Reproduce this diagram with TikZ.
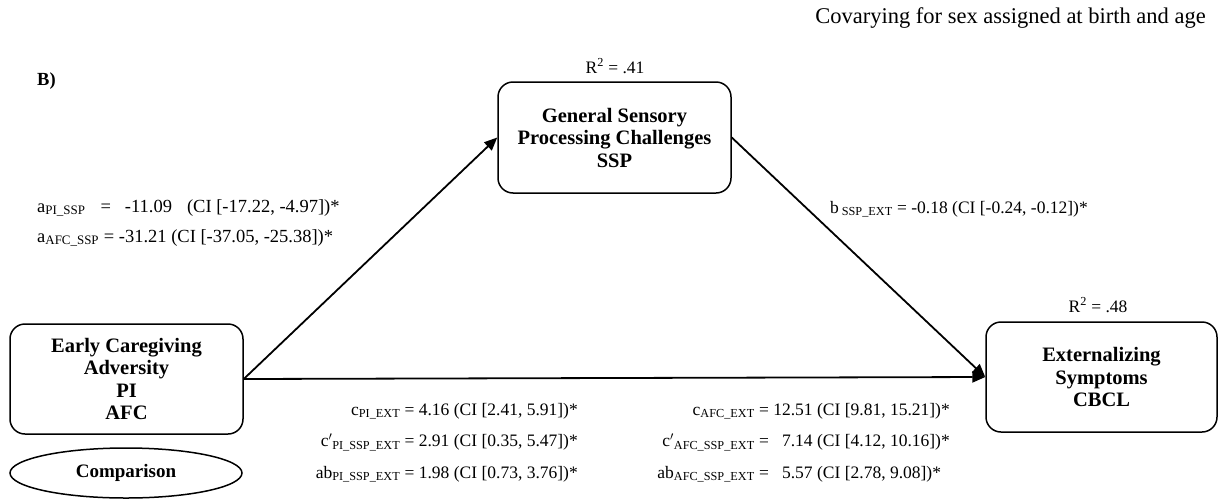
\documentclass[tikz,border=0pt]{standalone}
\usepackage{fontspec}
\setmainfont{Liberation Serif}
\usetikzlibrary{arrows.meta,shapes.geometric}
\newcommand{\sbs}[1]{\textsubscript{#1}}
\begin{document}
\begin{tikzpicture}[x=1pt,y=-1pt,
  varbox/.style={draw,line width=1.5pt,rounded corners=15pt,align=center,inner sep=0pt,
     font=\fontsize{20.5}{22.5}\selectfont\bfseries},
  coef/.style={inner sep=0pt,font=\fontsize{17.5}{20}\selectfont},
  path/.style={line width=1.8pt,-{Triangle[length=13pt,width=11pt]}}]
\useasboundingbox (0,0) rectangle (1221,501);

% header texts
\node[coef,anchor=base east,font=\fontsize{22.5}{24}\selectfont] (cov) at (1206,23) {Covarying for sex assigned at birth and age};
\node[coef,anchor=base west,font=\fontsize{18.5}{20}\selectfont\bfseries] (panel) at (37,85) {B)};

% variables
\node[varbox,minimum width=233pt,minimum height=111pt] (ssp) at (614.5,137.5) {General Sensory\\Processing Challenges\\SSP};
\node[varbox,minimum width=233pt,minimum height=110pt] (eca) at (126.5,379) {Early Caregiving\\Adversity\\PI\\AFC};
\node[varbox,minimum width=231pt,minimum height=110pt] (ext) at (1101.5,377) {Externalizing\\Symptoms\\CBCL};
\node[draw,ellipse,line width=1.5pt,minimum width=232pt,minimum height=50pt,inner sep=0pt,
  font=\fontsize{19}{20}\selectfont\bfseries] (cmp) at (126,473) {Comparison};

% explained variance
\node[coef] (r2m) at (615,66) {R\textsuperscript{2} = .41};
\node[coef] (r2y) at (1098,305) {R\textsuperscript{2} = .48};

% paths
\draw[path] (eca.east) -- (ssp.west);
\draw[path] (ssp.east) -- (ext.west);
\draw[path] (eca.east) -- (ext.west);

% path coefficients
\node[coef,anchor=base west,font=\fontsize{18.5}{20}\selectfont] (apath1) at (37,212)
  {a\sbs{PI\_SSP}\hspace{15pt}=\hspace{14pt}-11.09\hspace{15pt}(CI [-17.22, -4.97])*};
\node[coef,anchor=base west,font=\fontsize{18.5}{20}\selectfont] (apath2) at (37,242)
  {a\sbs{AFC\_SSP} = -31.21 (CI [-37.05, -25.38])*};
\node[coef,anchor=base west] (bpath) at (830,213) {b\,\sbs{SSP\_EXT} = -0.18 (CI [-0.24, -0.12])*};

\node[coef,anchor=base east] (cpi) at (578,415) {\begin{tabular}[t]{@{}r@{ = }l@{}}
  c\sbs{PI\_EXT} & 4.16 (CI [2.41, 5.91])*\\[11.5pt]
  c$'$\sbs{PI\_SSP\_EXT} & 2.91 (CI [0.35, 5.47])*\\[11.5pt]
  ab\sbs{PI\_SSP\_EXT} & 1.98 (CI [0.73, 3.76])*
\end{tabular}};
\node[coef,anchor=base east] (cafc) at (950,415) {\begin{tabular}[t]{@{}r@{ = }r@{ }l@{}}
  c\sbs{AFC\_EXT} & 12.51 & (CI [9.81, 15.21])*\\[11.5pt]
  c$'$\sbs{AFC\_SSP\_EXT} & 7.14 & (CI [4.12, 10.16])*\\[11.5pt]
  ab\sbs{AFC\_SSP\_EXT} & 5.57 & (CI [2.78, 9.08])*
\end{tabular}};
\end{tikzpicture}
\end{document}
